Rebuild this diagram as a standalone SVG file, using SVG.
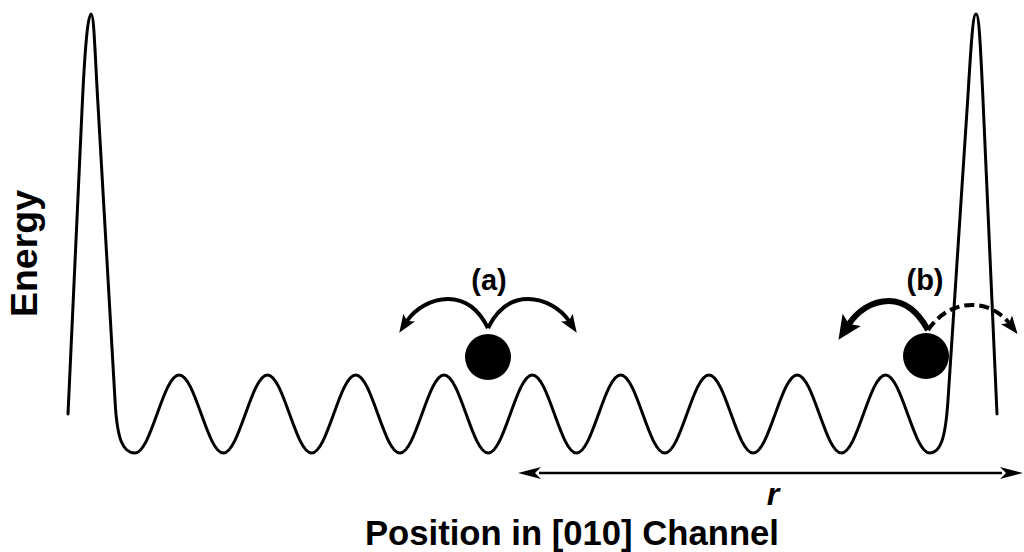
<svg xmlns="http://www.w3.org/2000/svg" width="1024" height="552" viewBox="0 0 1024 552">
<style>
.curve{fill:none;stroke:#000;stroke-width:3;stroke-linejoin:round;stroke-linecap:round}
.arc{fill:none;stroke:#000;stroke-width:4;stroke-linecap:butt}
.lbl{font-family:"Liberation Sans",Arial,Helvetica,sans-serif;font-weight:bold;fill:#000}
</style>
<defs>
<marker id="headS" markerUnits="userSpaceOnUse" markerWidth="20" markerHeight="14" viewBox="0 0 20 14" refX="4" refY="7" orient="auto">
<path d="M0,0 L18,7 L0,14 L4,7 z" fill="#000"/>
</marker>
<marker id="headB" markerUnits="userSpaceOnUse" markerWidth="26" markerHeight="22" viewBox="0 0 26 22" refX="5" refY="11" orient="auto">
<path d="M0,0 L24,11 L0,22 L5,11 z" fill="#000"/>
</marker>
<marker id="headR" markerUnits="userSpaceOnUse" markerWidth="24" markerHeight="14" viewBox="0 0 24 14" refX="2" refY="7" orient="auto-start-reverse">
<path d="M0,1 L23,7 L0,13 L6,7 z" fill="#000"/>
</marker>
</defs>
<g id="potential">
<path class="curve" d="M68,414 L82,110 C85,45 88,14 91,14 C94,14 94.5,45 98,105 L115,400 C117,440 123,453 135,453 C151.07,453 163.08,375 179.15,375 s28.08,78 44.15,78 s28.08,-78 44.15,-78 s28.08,78 44.15,78 s28.08,-78 44.15,-78 s28.08,78 44.15,78 s28.08,-78 44.15,-78 s28.08,78 44.15,78 s28.08,-78 44.15,-78 s28.08,78 44.15,78 s28.08,-78 44.15,-78 s28.08,78 44.15,78 s28.08,-78 44.15,-78 s28.08,78 44.15,78 s28.08,-78 44.15,-78 s28.08,78 44.15,78 s28.08,-78 44.15,-78 s28.08,78 44.15,78 C940,453 945.4,440 948,400 L968,95 C971,45 973,14 976,14 C979,14 980.5,45 983,100 L997,414"/>
</g>
<g id="particle-a">
<circle cx="488" cy="357" r="23" fill="#000"/>
<text class="lbl" x="489" y="290" font-size="29" text-anchor="middle">(a)</text>
</g>
<g id="particle-b">
<circle cx="926" cy="356" r="23" fill="#000"/>
<text class="lbl" x="925" y="290" font-size="29" text-anchor="middle">(b)</text>
</g>
<g id="connectors">
<path class="arc" d="M488,328 C478,308 465,299 448,299 C431,299 415,309 407,321" marker-end="url(#headS)"/>
<path class="arc" d="M488,328 C498,308 511,299 528,299 C545,299 561,309 569,321" marker-end="url(#headS)"/>
<path class="arc" style="stroke-width:6" d="M928,330 C918,312 905,301 889,301 C871,301 857,312 849,324" marker-end="url(#headB)"/>
<path class="arc" style="stroke-dasharray:10 5" d="M928,330 C940,313 955,305 972,305 C989,305 1002,314 1009,323" marker-end="url(#headS)"/>
<path fill="none" stroke="#000" stroke-width="2.5" d="M539,473 L1002,473" marker-start="url(#headR)" marker-end="url(#headR)"/>
</g>
<g id="labels">
<text class="lbl" x="773" y="505" font-size="32" font-style="italic" text-anchor="middle">r</text>
<text class="lbl" x="365" y="545" font-size="35" textLength="414" lengthAdjust="spacingAndGlyphs">Position in [010] Channel</text>
<text class="lbl" transform="translate(37,253.5) rotate(-90)" x="0" y="0" font-size="36" text-anchor="middle" textLength="127" lengthAdjust="spacingAndGlyphs">Energy</text>
</g>
</svg>
